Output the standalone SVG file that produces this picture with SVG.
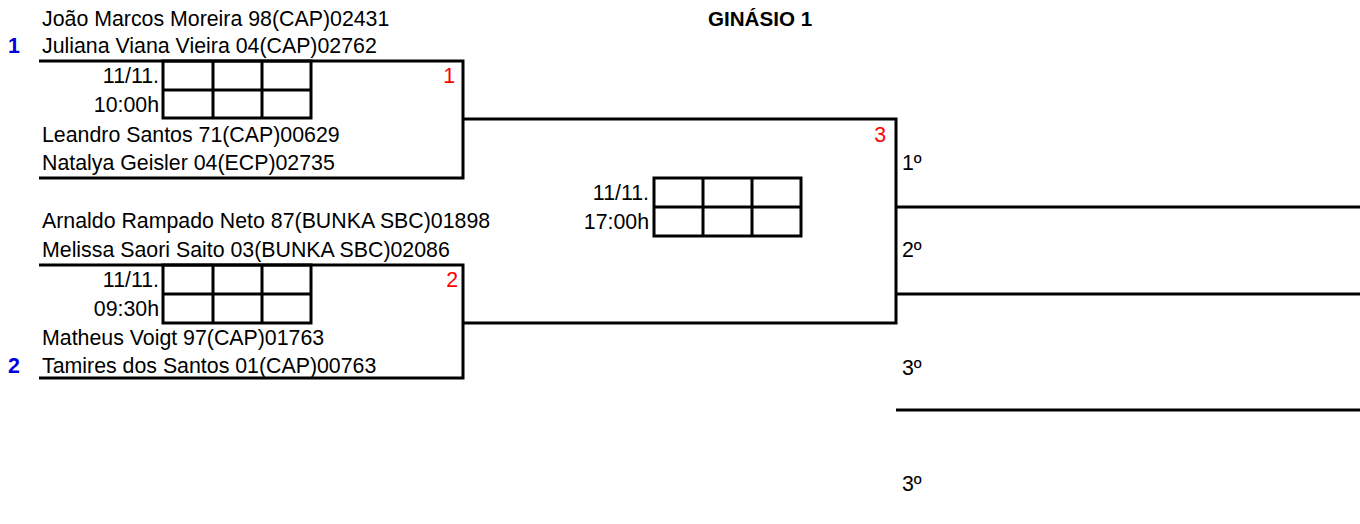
<svg xmlns="http://www.w3.org/2000/svg" width="1360" height="524" viewBox="0 0 1360 524">
<style>
text{font-family:"Liberation Sans",Arial,sans-serif;font-size:21.33px;fill:#000}
.r{text-anchor:end}
.red{fill:#ff0000}
.seed{fill:#0000e0;font-weight:bold}
.title{font-weight:bold;font-size:20.6px}
.ln{stroke:#000;stroke-width:3;fill:none;stroke-linecap:butt;stroke-linejoin:miter}
</style>
<rect width="1360" height="524" fill="#fff"/>
<g id="title"><text class="title" x="708" y="26">GINÁSIO 1</text></g>
<g id="match1">
<text x="42" y="26">João Marcos Moreira 98(CAP)02431</text>
<text class="seed" x="8" y="53">1</text>
<text x="42" y="53">Juliana Viana Vieira 04(CAP)02762</text>
<path class="ln" d="M39 61H463V178H39"/>
<rect class="ln" x="163" y="61" width="148" height="57"/>
<path class="ln" d="M163 90H311M213 61V118M262 61V118"/>
<text class="r" x="159" y="83">11/11.</text>
<text class="r" x="159" y="112">10:00h</text>
<text class="r red" x="455" y="83">1</text>
<text x="42" y="142">Leandro Santos 71(CAP)00629</text>
<text x="42" y="170">Natalya Geisler 04(ECP)02735</text>
</g>
<g id="match2">
<text x="42" y="228">Arnaldo Rampado Neto 87(BUNKA SBC)01898</text>
<text x="42" y="257">Melissa Saori Saito 03(BUNKA SBC)02086</text>
<path class="ln" d="M39 265H463V378H39"/>
<rect class="ln" x="163" y="265" width="148" height="58"/>
<path class="ln" d="M163 294H311M213 265V323M262 265V323"/>
<text class="r" x="159" y="287">11/11.</text>
<text class="r" x="159" y="316">09:30h</text>
<text class="r red" x="458" y="287">2</text>
<text x="42" y="345">Matheus Voigt 97(CAP)01763</text>
<text class="seed" x="8" y="373">2</text>
<text x="42" y="373">Tamires dos Santos 01(CAP)00763</text>
</g>
<g id="connectors">
<path class="ln" d="M463 119H896V323H463"/>
</g>
<g id="match3">
<rect class="ln" x="654" y="178" width="147" height="58"/>
<path class="ln" d="M654 207H801M703 178V236M752 178V236"/>
<text class="r" x="649" y="200">11/11.</text>
<text class="r" x="649" y="229">17:00h</text>
<text class="r red" x="886" y="142">3</text>
</g>
<g id="results">
<text x="902" y="170">1º</text>
<path class="ln" d="M896 207H1360"/>
<text x="902" y="257">2º</text>
<path class="ln" d="M896 294H1360"/>
<text x="902" y="375">3º</text>
<path class="ln" d="M896 410H1360"/>
<text x="902" y="491">3º</text>
</g>
</svg>
